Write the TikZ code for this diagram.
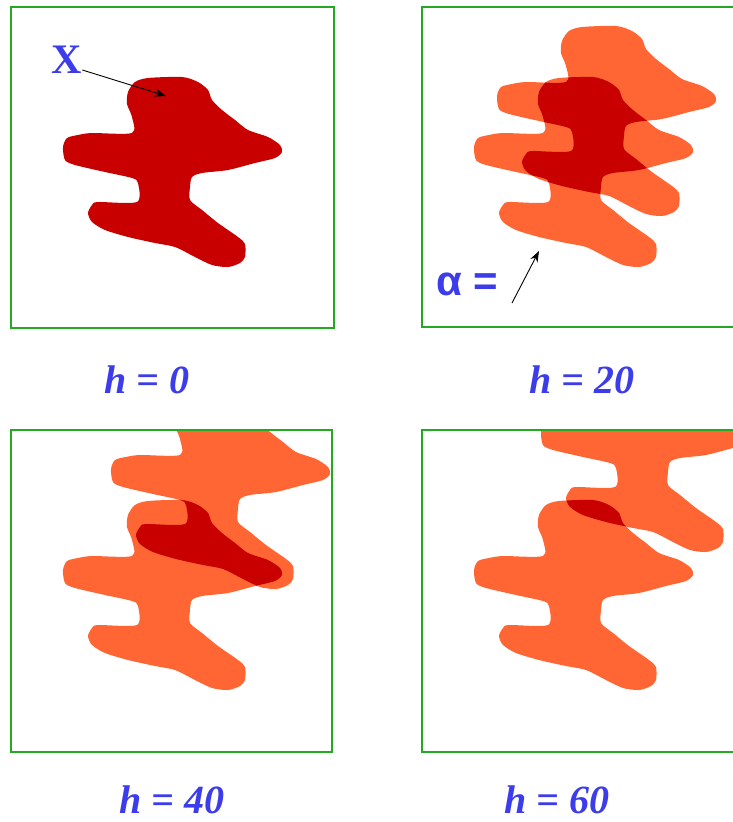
\documentclass[tikz,border=0pt]{standalone}
\usepackage{fontspec}
\setmainfont{Liberation Serif}
\newfontfamily\alphafont{Liberation Sans}
\usetikzlibrary{arrows.meta}

\definecolor{setred}{RGB}{200,0,0}
\definecolor{shiftorange}{RGB}{255,102,51}
\definecolor{framegreen}{RGB}{34,170,34}
\definecolor{labelblue}{RGB}{60,60,235}

% the set X, filled or used as a clip, at an offset
\newcommand{\blobfill}[2]{\fill[#1, shift={#2}] plot[smooth cycle, tension=0.45] coordinates {(127,104) (128,92) (135,82) (148,78) (182,77) (198,82) (208,90) (212,100)
  (222,110) (235,120) (248,130) (268,137) (280,145) (282,152) (275,158) (255,163)
  (228,170) (202,173) (192,177) (190,187) (190,200) (202,210) (218,223) (238,237)
  (245,244) (245,257) (240,263) (228,267) (212,265) (195,257) (175,247) (155,243)
  (128,237) (105,230) (92,222) (88,213) (92,205) (98,202) (137,202) (138,183)
  (132,178) (105,172) (75,165) (65,160) (63,147) (67,138) (78,135) (92,133)
  (132,133) (132,117)};}
\newcommand{\blobclip}[1]{\clip[shift={#1}] plot[smooth cycle, tension=0.45] coordinates {(127,104) (128,92) (135,82) (148,78) (182,77) (198,82) (208,90) (212,100)
  (222,110) (235,120) (248,130) (268,137) (280,145) (282,152) (275,158) (255,163)
  (228,170) (202,173) (192,177) (190,187) (190,200) (202,210) (218,223) (238,237)
  (245,244) (245,257) (240,263) (228,267) (212,265) (195,257) (175,247) (155,243)
  (128,237) (105,230) (92,222) (88,213) (92,205) (98,202) (137,202) (138,183)
  (132,178) (105,172) (75,165) (65,160) (63,147) (67,138) (78,135) (92,133)
  (132,133) (132,117)};}

\begin{document}
\begin{tikzpicture}[
      x=1pt, y=-1pt,
      panel/.style={draw=framegreen, line width=1.5pt},
      hlabel/.style={text=labelblue, inner sep=0pt, anchor=base,
        font=\fontsize{40}{40}\selectfont\bfseries\itshape},
      pointer/.style={-{Stealth[length=11pt, width=8pt]}, line width=0.9pt, black}
      ]
      \useasboundingbox (0,0) rectangle (733,822);

      % h = 0
      \begin{scope}
        \clip (11,7) rectangle (334,328);
        \blobfill{setred}{(0,0)}
      \end{scope}
      \draw[panel] (11,7) rectangle (334,328);

      % h = 20
      \begin{scope}
        \clip (422,7) rectangle (745,327);
        \blobfill{shiftorange}{(411,0)}
        \blobfill{shiftorange}{(434,-51)}
        \blobclip{(411,0)}
        \blobfill{setred}{(434,-51)}
      \end{scope}
      \draw[panel] (422,7) rectangle (745,327);

      % h = 40
      \begin{scope}
        \clip (11,430) rectangle (332,752);
        \blobfill{shiftorange}{(0,423)}
        \blobfill{shiftorange}{(48,322)}
        \blobclip{(0,423)}
        \blobfill{setred}{(48,322)}
      \end{scope}
      \draw[panel] (11,430) rectangle (332,752);

      % h = 60
      \begin{scope}
        \clip (422,430) rectangle (745,752);
        \blobfill{shiftorange}{(411,423)}
        \blobfill{shiftorange}{(478,285)}
        \blobclip{(411,423)}
        \blobfill{setred}{(478,285)}
      \end{scope}
      \draw[panel] (422,430) rectangle (745,752);

      % labels
      \node[text=labelblue, inner sep=0pt, anchor=base,
        font=\fontsize{42}{42}\selectfont\bfseries] (xlbl) at (67,73) {X};
      \node[text=labelblue, inner sep=0pt, anchor=base west,
        font=\fontsize{42}{42}\selectfont\alphafont\bfseries] (albl) at (436,295) {α =};
      \coordinate (xtip) at (166,96);
      \coordinate (atip) at (539,251);
      \coordinate (atail) at (512,303);
      \draw[pointer] (xlbl.east |- 0,70) -- (xtip);
      \draw[pointer] (atail) -- (atip);

      \node[hlabel] (h0) at (147,393) {h = 0};
      \node[hlabel] (h20) at (582,393) {h = 20};
      \node[hlabel] (h40) at (172,813) {h = 40};
      \node[hlabel] (h60) at (557,813) {h = 60};
\end{tikzpicture}
\end{document}
